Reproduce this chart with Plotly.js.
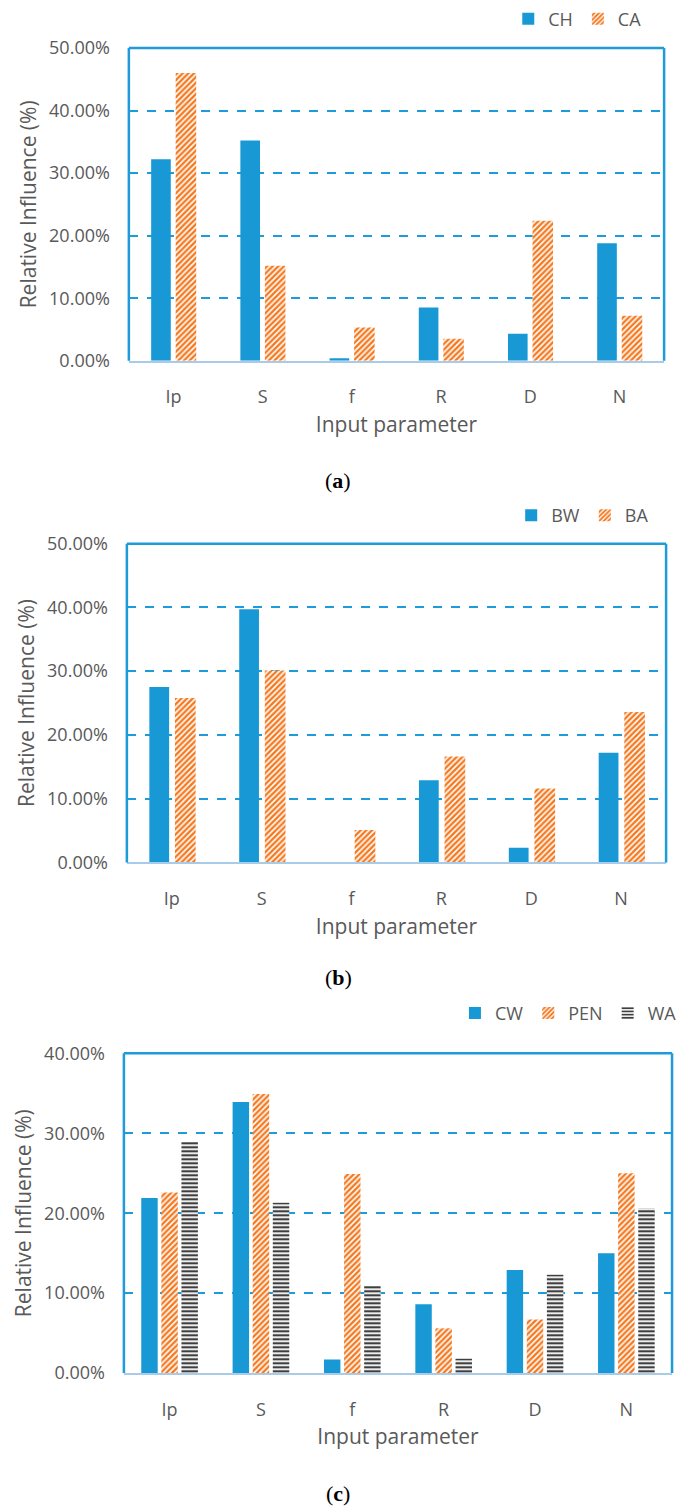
<!DOCTYPE html>
<html>
<head>
<meta charset="utf-8">
<script src="https://cdn.plot.ly/plotly-3.0.1.min.js"></script>
<style>
  html, body { margin: 0; padding: 0; background: #ffffff; }
  #chart { width: 682px; height: 1508px; }
</style>
</head>
<body>
<div id="chart"></div>
<script>
// Input parameters shared by all three panels
const parameters = ['Ip', 'S', 'f', 'R', 'D', 'N'];

// Panel (a): relative influence (%)
const chValues = [32.2, 35.2, 0.4, 8.5, 4.3, 18.8];
const caValues = [46.0, 15.2, 5.3, 3.5, 22.4, 7.2];

// Panel (b): relative influence (%)
const bwValues = [27.5, 39.7, 0.0, 12.9, 2.3, 17.2];
const baValues = [25.8, 30.1, 5.1, 16.6, 11.6, 23.6];

// Panel (c): relative influence (%)
const cwValues = [21.9, 33.9, 1.7, 8.6, 12.9, 15.0];
const penValues = [22.6, 34.9, 24.9, 5.6, 6.7, 25.0];
const waValues = [28.9, 21.3, 10.9, 1.8, 12.3, 20.6];

// Y-axis ticks
const yTicksAB = [0, 10, 20, 30, 40, 50];
const yTicksC = [0, 10, 20, 30, 40];

const W = 682, H = 1508;
const FONT = 'Open Sans, Noto Sans, sans-serif';
const GREY = '#595959';
const BLUE = '#1899D6';
const ORANGE = '#F47A22';
const DARK = '#3F3F3F';
const FRAME = '#1F9BD9';
const BASE = '#A7CBE8';

const px = v => v / W;          // horizontal pixel -> paper
const py = v => 1 - v / H;      // vertical pixel -> paper

function xAxis(l, r, anchor) {
  return {
    domain: [px(l), px(r)], anchor: anchor, type: 'category',
    range: [-0.5, 5.5], showgrid: false, zeroline: false, ticks: '',
    showline: true, linecolor: BASE, linewidth: 2,
    tickfont: { family: FONT, size: 18, color: GREY },
    ticklabelstandoff: 19,
    title: { text: 'Input parameter', font: { family: FONT, size: 21, color: GREY }, standoff: 10 },
    fixedrange: true
  };
}

function yAxis(t, b, anchor, ticks) {
  return {
    domain: [py(b), py(t)], anchor: anchor,
    range: [0, ticks[ticks.length - 1]], tickmode: 'array', tickvals: ticks,
    ticktext: ticks.map(v => v.toFixed(2) + '%'),
    showgrid: true, gridcolor: FRAME, gridwidth: 2, griddash: 'dash',
    zeroline: false, showline: false, ticks: '',
    tickfont: { family: FONT, size: 18, color: GREY },
    ticklabelstandoff: 18,
    title: { text: 'Relative Influence (%)', font: { family: FONT, size: 21, color: GREY }, standoff: 6 },
    fixedrange: true
  };
}

function solid(name, y, xa, ya, leg, width, offset) {
  return {
    type: 'bar', name: name, x: parameters, y: y, xaxis: xa, yaxis: ya, legend: leg,
    width: width, offset: offset,
    marker: { color: BLUE, line: { width: 0 } },
    hoverinfo: 'x+y+name'
  };
}

function hatched(name, y, xa, ya, leg, width, offset) {
  return {
    type: 'bar', name: name, x: parameters, y: y, xaxis: xa, yaxis: ya, legend: leg,
    width: width, offset: offset,
    marker: {
      color: ORANGE, line: { width: 0 },
      pattern: { shape: '/', fgcolor: ORANGE, bgcolor: '#ffffff', size: 4, solidity: 0.6 }
    },
    hoverinfo: 'x+y+name'
  };
}

function striped(name, y, xa, ya, leg, width, offset) {
  return {
    type: 'bar', name: name, x: parameters, y: y, xaxis: xa, yaxis: ya, legend: leg,
    width: width, offset: offset,
    marker: {
      color: DARK, line: { width: 0 },
      pattern: { shape: '-', fgcolor: DARK, bgcolor: '#ffffff', size: 4, solidity: 0.55 }
    },
    hoverinfo: 'x+y+name'
  };
}

const traces = [
  solid('CH', chValues, 'x', 'y', 'legend', 0.22, -0.25),
  hatched('CA', caValues, 'x', 'y', 'legend', 0.23, 0.025),
  solid('BW', bwValues, 'x2', 'y2', 'legend2', 0.22, -0.25),
  hatched('BA', baValues, 'x2', 'y2', 'legend2', 0.23, 0.035),
  solid('CW', cwValues, 'x3', 'y3', 'legend3', 0.18, -0.31),
  hatched('PEN', penValues, 'x3', 'y3', 'legend3', 0.18, -0.09),
  striped('WA', waValues, 'x3', 'y3', 'legend3', 0.18, 0.13)
];

function frame(xr, yr) {
  const line = { color: FRAME, width: 2.5 };
  return [
    { type: 'line', xref: xr + ' domain', yref: yr + ' domain', x0: 0, x1: 0, y0: 0, y1: 1, line: line },
    { type: 'line', xref: xr + ' domain', yref: yr + ' domain', x0: 0, x1: 1, y0: 1, y1: 1, line: line },
    { type: 'line', xref: xr + ' domain', yref: yr + ' domain', x0: 1, x1: 1, y0: 0, y1: 1, line: line }
  ];
}

function legendAt(xRight, yMid) {
  return {
    orientation: 'h', x: px(xRight), xanchor: 'right', y: py(yMid), yanchor: 'middle',
    font: { family: FONT, size: 18, color: GREY }, bgcolor: 'rgba(0,0,0,0)',
    itemclick: false, itemdoubleclick: false, tracegroupgap: 0, itemwidth: 30
  };
}

function panelLabel(letter, yMid) {
  return {
    text: '(<b>' + letter + '</b>)', xref: 'paper', yref: 'paper',
    x: px(341), y: py(yMid), xanchor: 'center', yanchor: 'middle', showarrow: false,
    font: { family: 'Liberation Serif, DejaVu Serif, serif', size: 22, color: '#000000' }
  };
}

const layout = {
  width: W, height: H,
  margin: { l: 0, r: 0, t: 0, b: 0 },
  paper_bgcolor: '#ffffff', plot_bgcolor: '#ffffff',
  barmode: 'group',
  showlegend: true,
  xaxis: xAxis(130, 670, 'y'),
  yaxis: yAxis(47, 360, 'x', yTicksAB),
  xaxis2: xAxis(128, 672, 'y2'),
  yaxis2: yAxis(543, 862, 'x2', yTicksAB),
  xaxis3: xAxis(125, 678, 'y3'),
  yaxis3: yAxis(1053, 1373, 'x3', yTicksC),
  legend: legendAt(652, 18),
  legend2: legendAt(660, 515),
  legend3: legendAt(688, 1013),
  shapes: [].concat(frame('x', 'y'), frame('x2', 'y2'), frame('x3', 'y3')),
  annotations: [panelLabel('a', 480), panelLabel('b', 977), panelLabel('c', 1493)]
};

Plotly.newPlot('chart', traces, layout, { displayModeBar: false, staticPlot: true });
</script>
</body>
</html>
